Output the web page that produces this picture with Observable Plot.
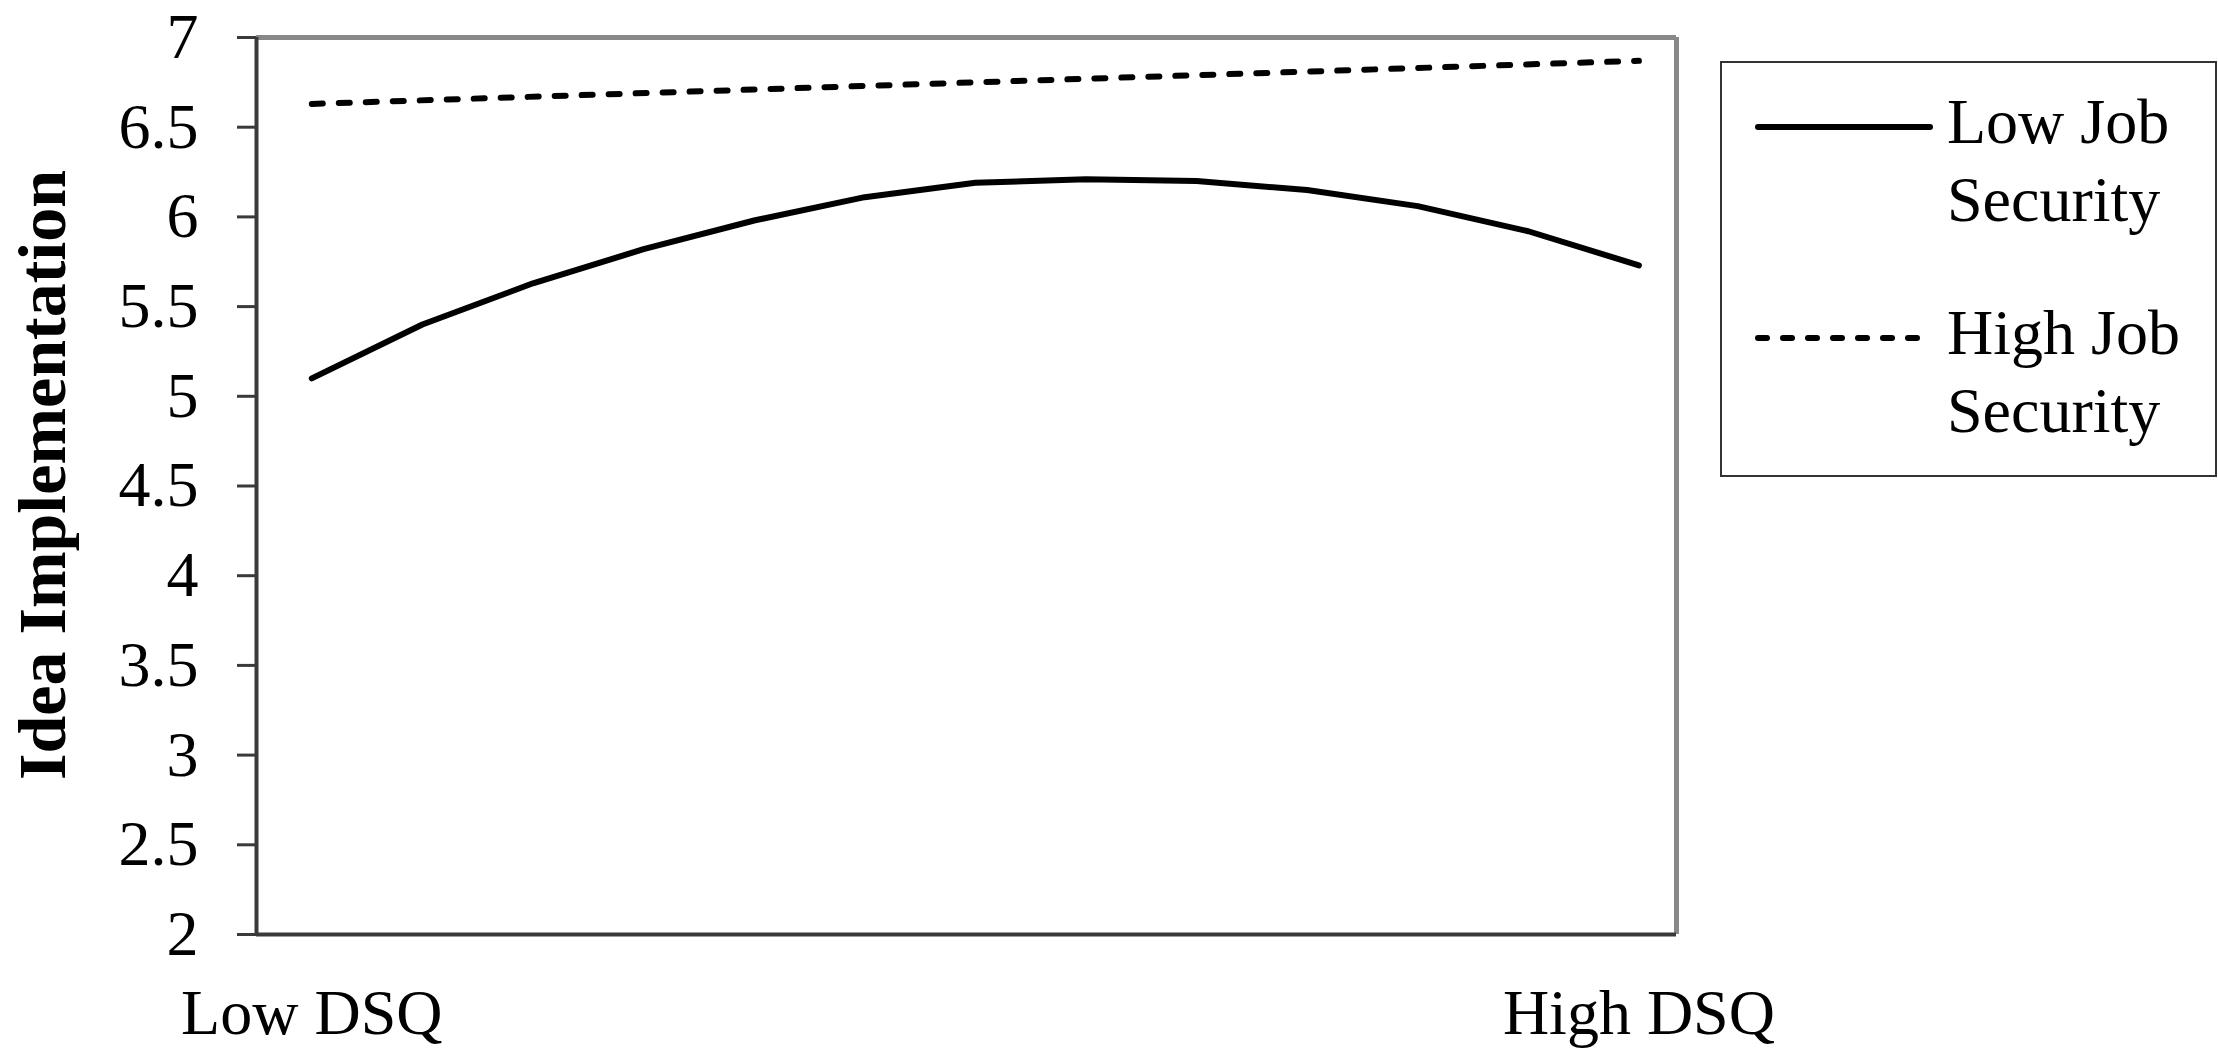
<!DOCTYPE html>
<html>
<head>
<meta charset="utf-8">
<script src="https://cdn.jsdelivr.net/npm/d3@7"></script>
<script src="https://cdn.jsdelivr.net/npm/@observablehq/plot@0.6"></script>
<style>
  html, body { margin: 0; padding: 0; background: #fff; }
  #wrap { position: relative; width: 2218px; height: 1055px; font-family: 'Liberation Serif', 'Times New Roman', serif; }
  #legend { position: absolute; left: 1720px; top: 61px; width: 493px; height: 412px; border: 2px solid #333; background: #fff; }
  .item { position: absolute; left: 0; }
  .item svg { position: absolute; }
  .item .lab { position: absolute; left: 225px; font-size: 64px; line-height: 78px; color: #000; white-space: nowrap; }
</style>
</head>
<body>
<div id="wrap"></div>
<script>
// ---- data ----
const xLabels = ["Low DSQ", "High DSQ"];
const xTickValues = [0, 12];
const steps = [0, 1, 2, 3, 4, 5, 6, 7, 8, 9, 10, 11, 12];
const lowJobSecurity = [5.10, 5.40, 5.63, 5.82, 5.98, 6.11, 6.19, 6.21, 6.20, 6.15, 6.06, 5.92, 5.73];
const highSteps = [0, 12];
const highJobSecurity = [6.63, 6.87];
const yTicks = [2, 2.5, 3, 3.5, 4, 4.5, 5, 5.5, 6, 6.5, 7];
const yTitle = "Idea Implementation";
const seriesNames = ["Low Job Security", "High Job Security"];
const legendLines = [["Low Job", "Security"], ["High Job", "Security"]];

const lowData = steps.map((s, i) => ({x: s, y: lowJobSecurity[i], series: seriesNames[0]}));
const highData = highSteps.map((s, i) => ({x: s, y: highJobSecurity[i], series: seriesNames[1]}));

const font = "'Liberation Serif', 'Times New Roman', serif";

const chart = Plot.plot({
  width: 2218,
  height: 1055,
  marginLeft: 256,
  marginRight: 542,
  marginTop: 37,
  marginBottom: 121,
  style: {fontFamily: font, color: "#000", background: "#fff", overflow: "visible"},
  x: {domain: [-0.5, 12.34]},
  y: {domain: [2, 7]},
  marks: [
    Plot.ruleY([7], {stroke: "#888", strokeWidth: 5}),
    Plot.ruleX([12.34], {stroke: "#888", strokeWidth: 5}),
    Plot.ruleX([-0.5], {stroke: "#3a3a3a", strokeWidth: 4}),
    Plot.ruleY([2], {stroke: "#3a3a3a", strokeWidth: 4}),
    Plot.axisY({ticks: yTicks, tickSize: 19, tickPadding: 39, tickFormat: d => String(d), fontSize: 64, label: null, stroke: "#3a3a3a", strokeWidth: 3, strokeOpacity: 1}),
    Plot.text([yTitle], {frameAnchor: "left", rotate: -90, dx: -240, dy: -11, lineAnchor: "top", textAnchor: "middle", fontSize: 68, fontWeight: "bold", fill: "#000"}),
    Plot.axisX({ticks: xTickValues, tickFormat: d => xLabels[xTickValues.indexOf(d)], tickSize: 0, tickPadding: 54, fontSize: 64, label: null}),
    Plot.line(lowData, {x: "x", y: "y", stroke: "#000", strokeWidth: 6, strokeLinecap: "round", strokeLinejoin: "round"}),
    Plot.line(highData, {x: "x", y: "y", stroke: "#000", strokeWidth: 6, strokeDasharray: "11,16", strokeLinecap: "round"})
  ]
});

const wrap = document.getElementById("wrap");
wrap.appendChild(chart);

// ---- legend ----
const legend = document.createElement("div");
legend.id = "legend";
const itemTops = [20, 231];
seriesNames.forEach((name, k) => {
  const item = document.createElement("div");
  item.className = "item";
  item.style.top = itemTops[k] + "px";
  const dash = k === 0 ? ' stroke-linecap="round"' : ' stroke-dasharray="9,16" stroke-linecap="round"';
  item.innerHTML =
    `<svg width="200" height="20" style="left:32px;top:34px" viewBox="0 0 200 20">` +
    `<line x1="4" y1="10" x2="176" y2="10" stroke="#000" stroke-width="6"${dash}/></svg>` +
    `<div class="lab" title="${name}">${legendLines[k][0]}<br>${legendLines[k][1]}</div>`;
  legend.appendChild(item);
});
wrap.appendChild(legend);
</script>
</body>
</html>
